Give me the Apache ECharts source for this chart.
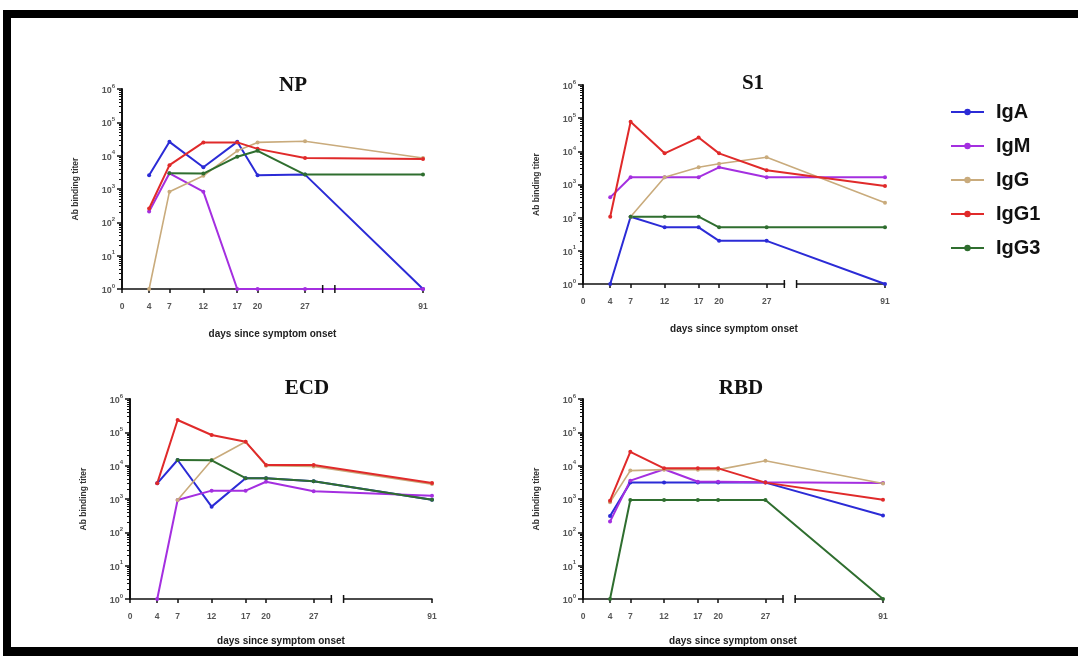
<!DOCTYPE html>
<html><head><meta charset="utf-8">
<script src="https://cdn.jsdelivr.net/npm/echarts@6/dist/echarts.min.js"></script>
<style>html,body{margin:0;padding:0;background:#fff}#c{width:1078px;height:656px}</style>
</head><body><div id="c"></div>
<script>
// ---------------- data ----------------
const days = [4, 7, 12, 17, 20, 27, 91];
const xTickValues = [0, 4, 7, 12, 17, 20, 27, 91];
const isotypes = ['IgA', 'IgM', 'IgG', 'IgG1', 'IgG3'];
const panelTitles = ['NP', 'S1', 'ECD', 'RBD'];
const yAxisTitle = 'Ab binding titer';
const xAxisTitle = 'days since symptom onset';

const NP_IgA  = [2600, 26000, 4500, 26000, 2600, 2700, 1];
const NP_IgM  = [210, 2950, 830, 1, 1, 1, 1];
const NP_IgG  = [1, 830, 2500, 14000, 25000, 27000, 8500];
const NP_IgG1 = [260, 5200, 25000, 25000, 16000, 8500, 8000];
const NP_IgG3 = [null, 2950, 2900, 9300, 14000, 2700, 2700];

const S1_IgA  = [1, 107, 51, 51, 20, 20, 1];
const S1_IgM  = [410, 1660, 1660, 1660, 3300, 1660, 1660];
const S1_IgG  = [null, 107, 1660, 3300, 4200, 6600, 280];
const S1_IgG1 = [107, 78000, 8700, 26000, 8700, 2700, 900];
const S1_IgG3 = [null, 107, 107, 107, 51, 51, 51];

const ECD_IgA  = [2950, 14800, 590, 4200, 4200, 3400, 950];
const ECD_IgM  = [1, 930, 1780, 1780, 3300, 1700, 1260];
const ECD_IgG  = [null, 930, 14500, 52000, 10000, 9500, 2800];
const ECD_IgG1 = [2950, 234000, 83000, 52000, 10500, 10500, 3000];
const ECD_IgG3 = [null, 14800, 14500, 4200, 4200, 3400, 950];

const RBD_IgA  = [310, 3100, 3100, 3100, 3100, 3100, 320];
const RBD_IgM  = [210, 3550, 7800, 3300, 3300, 3200, 3000];
const RBD_IgG  = [800, 7100, 7600, 7600, 7600, 14000, 2900];
const RBD_IgG1 = [890, 26000, 8300, 8300, 8300, 3100, 950];
const RBD_IgG3 = [1, 930, 930, 930, 930, 930, 1];

const axisBreakStart = 29.6;
const axisBreakEnd = 78;

// ---------------- styles / layout ----------------
const panelData = [
  [NP_IgA, NP_IgM, NP_IgG, NP_IgG1, NP_IgG3],
  [S1_IgA, S1_IgM, S1_IgG, S1_IgG1, S1_IgG3],
  [ECD_IgA, ECD_IgM, ECD_IgG, ECD_IgG1, ECD_IgG3],
  [RBD_IgA, RBD_IgM, RBD_IgG, RBD_IgG1, RBD_IgG3]
];
const colors = ['#2b2bd6', '#a42fe0', '#c9ab7c', '#e02a2a', '#2f6e2f'];
const grids = [
  {left: 122, top: 89, width: 301, height: 200},
  {left: 583, top: 85, width: 302, height: 199},
  {left: 130, top: 399, width: 302, height: 200},
  {left: 583, top: 399, width: 300, height: 200}
];
const titlePos = [[288, 82], [748, 80], [302, 385], [736, 385]];

// minor log ticks (2..9 within each decade) – axis decoration only
const minorTicks = [];
for (let e = 0; e < 6; e++) for (let m = 2; m <= 9; m++) minorTicks.push(m * Math.pow(10, e));

const chart = echarts.init(document.getElementById('c'), null, {renderer: 'canvas'});

const labelFont = {fontFamily: 'Liberation Sans', fontWeight: 'bold', color: '#555'};

const yMain = grids.map((g, i) => ({
  type: 'log', logBase: 10, gridIndex: i, min: 1, max: 1000000, splitNumber: 6,
  name: yAxisTitle, nameLocation: 'middle', nameGap: 42,
  nameTextStyle: {fontFamily: 'Liberation Sans', fontWeight: 'bold', fontSize: 8.5, color: '#333'},
  splitLine: {show: false},
  axisLine: {show: true, lineStyle: {color: '#111', width: 2}},
  axisTick: {show: true, length: 5, lineStyle: {color: '#111', width: 1.5}},
  axisLabel: {
    margin: 7, fontFamily: 'Liberation Sans', fontWeight: 'bold', color: '#555',
    formatter: v => '{b|10}{s|' + Math.round(Math.log10(v)) + '}',
    rich: {
      b: Object.assign({fontSize: 9, verticalAlign: 'bottom', lineHeight: 12}, labelFont),
      s: Object.assign({fontSize: 6, verticalAlign: 'top', lineHeight: 12}, labelFont)
    }
  }
}));
const yMinor = grids.map((g, i) => ({
  type: 'log', logBase: 10, gridIndex: i, min: 1, max: 1000000, position: 'left',
  axisLine: {show: false}, splitLine: {show: false}, axisLabel: {show: false},
  axisTick: {show: true, customValues: minorTicks, length: 3, lineStyle: {color: '#111', width: 1}}
}));

const option = {
  animation: false,
  backgroundColor: '#fff',
  title: panelTitles.map((t, i) => ({
    text: t, left: titlePos[i][0], top: titlePos[i][1] - 12, textAlign: 'center',
    textStyle: {fontFamily: 'Liberation Serif', fontWeight: 'bold', fontSize: 21, color: '#111'}
  })),
  legend: {
    orient: 'vertical', left: 945, top: 97, itemWidth: 33, itemHeight: 8, itemGap: 14,
    data: isotypes,
    textStyle: {fontFamily: 'Liberation Sans', fontWeight: 'bold', fontSize: 20, color: '#111',
      lineHeight: 20, padding: [0, 0, 0, 7]}
  },
  grid: grids.map(g => Object.assign({containLabel: false}, g)),
  xAxis: grids.map((g, i) => ({
    type: 'value', gridIndex: i, min: 0, max: 91,
    breaks: [{start: axisBreakStart, end: axisBreakEnd, gap: 1.8}],
    breakArea: {show: false},
    name: xAxisTitle, nameLocation: 'middle', nameGap: i < 2 ? 40 : 37,
    nameTextStyle: {fontFamily: 'Liberation Sans', fontWeight: 'bold', fontSize: 10, color: '#222'},
    splitLine: {show: false},
    axisLine: {lineStyle: {color: '#111', width: 1.5}},
    axisTick: {show: true, customValues: xTickValues, length: 4, lineStyle: {color: '#111', width: 1.5}},
    axisLabel: {customValues: xTickValues, fontFamily: 'Liberation Sans', fontWeight: 'bold',
      fontSize: 8.5, color: '#555', margin: 13}
  })),
  yAxis: yMain.concat(yMinor),
  series: []
};

panelData.forEach((arrs, p) => {
  arrs.forEach((vals, k) => {
    const pts = [];
    days.forEach((d, j) => { if (vals[j] != null) pts.push([d, vals[j]]); });
    option.series.push({
      name: isotypes[k], type: 'line', xAxisIndex: p, yAxisIndex: p,
      data: pts, symbol: 'circle', symbolSize: 4, showSymbol: true,
      color: colors[k],
      lineStyle: {width: k === 2 ? 1.6 : 2, color: colors[k]},
      itemStyle: {color: colors[k]},
      emphasis: {disabled: true}
    });
  });
});

chart.setOption(option);

// axis break marks + frame
const g = [];
grids.forEach((gr, i) => {
  const x1 = chart.convertToPixel({xAxisIndex: i}, axisBreakStart);
  const x2 = chart.convertToPixel({xAxisIndex: i}, axisBreakEnd);
  const y = chart.convertToPixel({yAxisIndex: i}, 1);
  g.push({type: 'rect', z: 1, shape: {x: x1 + 1, y: y - 2, width: x2 - x1 - 2, height: 4}, style: {fill: '#fff'}});
  g.push({type: 'line', z: 5, shape: {x1: x1, y1: y - 4, x2: x1, y2: y + 4}, style: {stroke: '#111', lineWidth: 1.5}});
  g.push({type: 'line', z: 5, shape: {x1: x2, y1: y - 4, x2: x2, y2: y + 4}, style: {stroke: '#111', lineWidth: 1.5}});
});
g.push({type: 'rect', z: 10, shape: {x: 3, y: 10, width: 1075, height: 8}, style: {fill: '#000'}});
g.push({type: 'rect', z: 10, shape: {x: 3, y: 10, width: 8, height: 646}, style: {fill: '#000'}});
g.push({type: 'rect', z: 10, shape: {x: 3, y: 647, width: 1075, height: 9}, style: {fill: '#000'}});
chart.setOption({graphic: g});
</script></body></html>
